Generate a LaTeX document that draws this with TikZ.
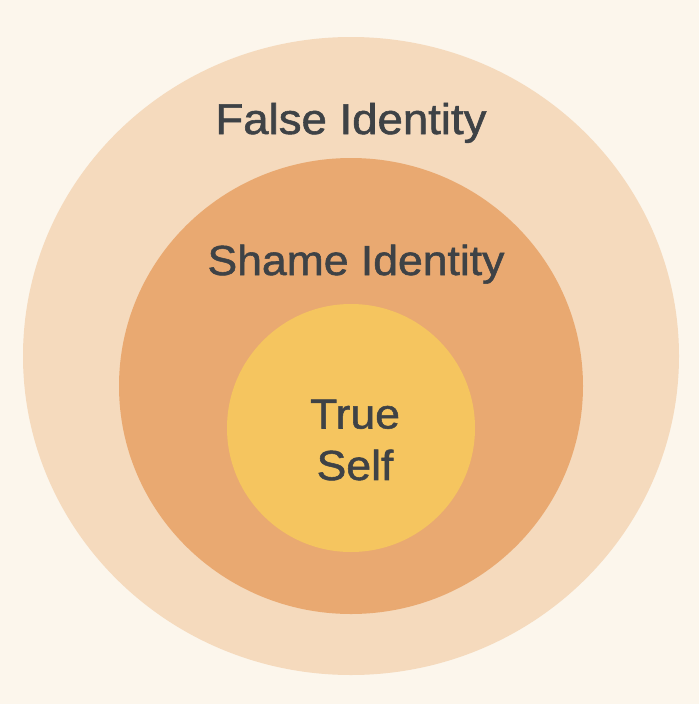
\documentclass[tikz,border=0pt]{standalone}
\usepackage{fontspec}
\setmainfont{Liberation Sans}[FakeStretch=1.06,FakeBold=1.3]
\definecolor{bg}{HTML}{FCF6EC}
\definecolor{outerc}{HTML}{F5DABD}
\definecolor{midc}{HTML}{E9A971}
\definecolor{innerc}{HTML}{F5C55F}
\definecolor{txt}{HTML}{3E4246}
\begin{document}
\begin{tikzpicture}[x=1pt,y=-1pt,
  lbl/.style={text=txt, inner sep=0pt, font=\fontsize{43}{51.5}\selectfont, align=center}]
\useasboundingbox (0,0) rectangle (699,704);
\fill[bg] (0,0) rectangle (699,704);
\fill[outerc] (351,356) ellipse [x radius=328, y radius=319];
\fill[midc] (351,386) ellipse [x radius=232, y radius=228];
\fill[innerc] (351,428) circle [radius=124];
\node[lbl, anchor=base] (false) at (351,134) {False Identity};
\node[lbl, anchor=base, font=\fontsize{42}{50}\selectfont] (shame) at (356,275) {Shame Identity};
\node[lbl, font=\fontsize{42}{51.5}\selectfont] (true) at (355,440) {True\\Self};
\end{tikzpicture}
\end{document}
